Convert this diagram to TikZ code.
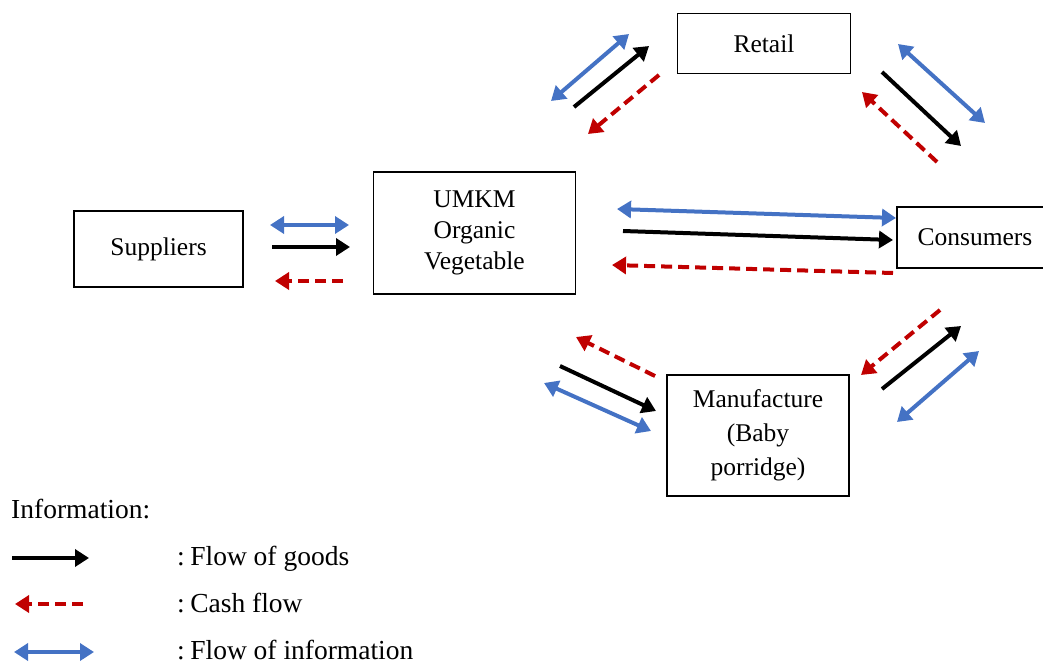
\documentclass[tikz,border=0pt]{standalone}
\usepackage{fontspec}
\setmainfont{Liberation Serif}
\usetikzlibrary{arrows.meta}
\definecolor{infoblue}{HTML}{4472C4}
\definecolor{cashred}{HTML}{C00000}
\begin{document}
\begin{tikzpicture}[x=1pt,y=-1pt,
  box/.style={draw, line width=1.6pt, inner sep=0pt, align=center, font=\fontsize{25.5}{31}\selectfont},
  goods/.style={line width=4pt, black, -{Triangle[length=14pt,width=17pt]}},
  cash/.style={line width=4pt, cashred, dash pattern=on 11pt off 6pt, -{Triangle[length=14pt,width=17pt]}},
  info/.style={line width=4pt, infoblue, {Triangle[length=14pt,width=17pt]}-{Triangle[length=14pt,width=17pt]}},
  legtext/.style={anchor=base west, inner sep=0pt, font=\fontsize{27.5}{32}\selectfont}
]
\useasboundingbox (0,0) rectangle (1043,664);

% boxes
\node[box, minimum width=173pt, minimum height=60pt] (retail) at (764,43.5) {Retail};
\node[box, minimum width=169pt, minimum height=76pt] (suppliers) at (158.5,249) {Suppliers};
\node[box, minimum width=202pt, minimum height=122pt] (umkm) at (474.5,233) {UMKM\\Organic\\Vegetable};
\node[box, minimum width=150pt, minimum height=61pt, text width=146pt] (consumers) at (972,237.5) {\hspace*{6pt}Consumers};
\node[box, minimum width=182pt, minimum height=121pt, font=\fontsize{25.5}{34}\selectfont] (manuf) at (758,435.5) {Manufacture\\(Baby\\porridge)};

% arrow end points
\coordinate (s1a) at (270,225); \coordinate (s1b) at (349,225);
\coordinate (s2a) at (272,247); \coordinate (s2b) at (350,247);
\coordinate (s3a) at (343,281); \coordinate (s3b) at (275,281);

\coordinate (r1a) at (551,101); \coordinate (r1b) at (629,34);
\coordinate (r2a) at (574,107); \coordinate (r2b) at (649,46);
\coordinate (r3a) at (659,75);  \coordinate (r3b) at (588,134);

\coordinate (q1a) at (898,44);  \coordinate (q1b) at (985,123);
\coordinate (q2a) at (882,72);  \coordinate (q2b) at (961,146);
\coordinate (q3a) at (937,162); \coordinate (q3b) at (862,92);

\coordinate (c1a) at (617,209); \coordinate (c1b) at (896,218);
\coordinate (c2a) at (623,231); \coordinate (c2b) at (893,240);
\coordinate (c3a) at (893,273); \coordinate (c3b) at (612,265);

\coordinate (m1a) at (655,376); \coordinate (m1b) at (576,337);
\coordinate (m2a) at (560,366); \coordinate (m2b) at (656,411);
\coordinate (m3a) at (544,383); \coordinate (m3b) at (651,431);

\coordinate (n1a) at (940,310); \coordinate (n1b) at (861,375);
\coordinate (n2a) at (882,389); \coordinate (n2b) at (961,326);
\coordinate (n3a) at (897,422); \coordinate (n3b) at (979,351);

\draw[info] (s1a) -- (s1b);
\draw[goods] (s2a) -- (s2b);
\draw[cash] (s3a) -- (s3b);

\draw[info] (r1a) -- (r1b);
\draw[goods] (r2a) -- (r2b);
\draw[cash] (r3a) -- (r3b);

\draw[info] (q1a) -- (q1b);
\draw[goods] (q2a) -- (q2b);
\draw[cash] (q3a) -- (q3b);

\draw[info] (c1a) -- (c1b);
\draw[goods] (c2a) -- (c2b);
\draw[cash] (c3a) -- (c3b);

\draw[cash] (m1a) -- (m1b);
\draw[goods] (m2a) -- (m2b);
\draw[info] (m3a) -- (m3b);

\draw[cash] (n1a) -- (n1b);
\draw[goods] (n2a) -- (n2b);
\draw[info] (n3a) -- (n3b);

% legend
\node[legtext] (leghead) at (11,518) {Information:};
\coordinate (l1a) at (12,558); \coordinate (l1b) at (89,558);
\coordinate (l2a) at (83,604); \coordinate (l2b) at (15,604);
\coordinate (l3a) at (14,652); \coordinate (l3b) at (94,652);
\draw[goods] (l1a) -- (l1b);
\draw[cash] (l2a) -- (l2b);
\draw[info] (l3a) -- (l3b);
\node[legtext] (leg1) at (177,565) {:\hspace{0.2em}Flow of goods};
\node[legtext] (leg2) at (177,612) {:\hspace{0.2em}Cash flow};
\node[legtext] (leg3) at (177,659) {:\hspace{0.2em}Flow of information};
\end{tikzpicture}
\end{document}
